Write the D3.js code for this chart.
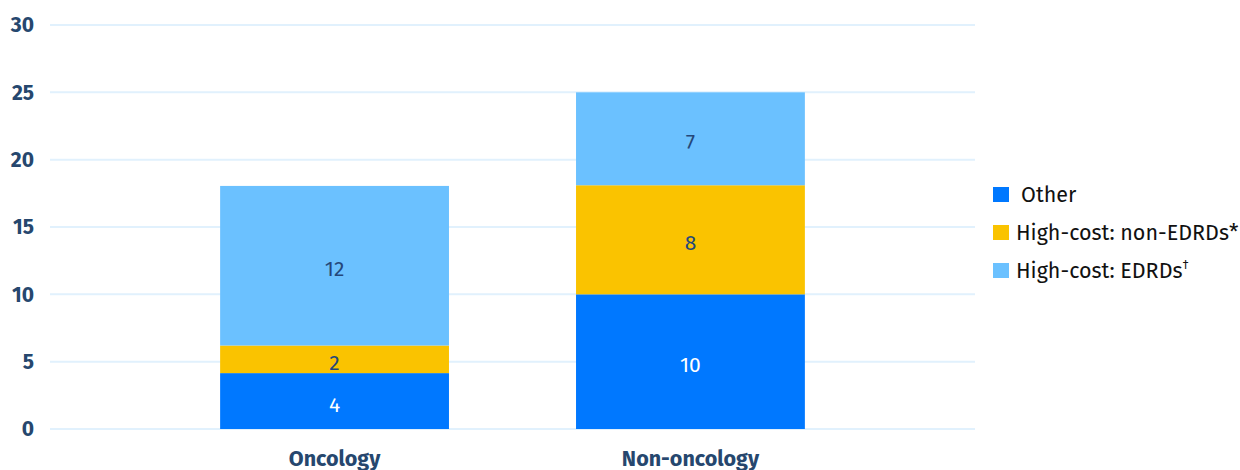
<!DOCTYPE html>
<html><head><meta charset="utf-8">
<script src="https://cdn.jsdelivr.net/npm/d3@7"></script>
<style>body{margin:0;background:#fff;} svg{display:block;font-family:"Fira Sans",Roboto,sans-serif;}</style>
</head><body><svg id="c" width="1240" height="470"></svg>
<script>
const categories = ["Oncology", "Non-oncology"];
const seriesNames = ["Other", "High-cost: non-EDRDs*", "High-cost: EDRDs"];
const seriesMarks = ["", "", "\u2020"];
const other = [4.15, 10.0];
const nonEdrd = [2.05, 8.1];
const edrd = [11.85, 6.9];
const yTicks = [0, 5, 10, 15, 20, 25, 30];
const colors = ["#0078ff", "#fac300", "#6bc1ff"];
const labelColors = ["#ffffff", "#25487a", "#25487a"];

const svg = d3.select("#c");
const y = d3.scaleLinear().domain([0, 30]).range([429, 25]);
const x = d3.scaleBand().domain(categories).range([50, 975]).paddingInner(0.357).paddingOuter(0.478);

// gridlines
svg.append("g").selectAll("line").data(yTicks).join("line")
  .attr("x1", 50).attr("x2", 975)
  .attr("y1", d => y(d)).attr("y2", d => y(d))
  .attr("stroke", "#e1f1fd").attr("stroke-width", 2);

// y axis labels
const yAxis = svg.append("g").attr("transform", "translate(34,0)")
  .call(d3.axisLeft(y).tickValues(yTicks).tickSize(0).tickPadding(0));
yAxis.select(".domain").remove();
yAxis.selectAll("text").attr("font-size", 21).attr("font-weight", "bold")
  .attr("fill", "#26476e").attr("font-family", "\"Fira Sans\",Roboto,sans-serif");

// x axis labels
const xAxis = svg.append("g").attr("transform", "translate(0,443)")
  .call(d3.axisBottom(x).tickSize(0).tickPadding(0));
xAxis.select(".domain").remove();
xAxis.selectAll("text").attr("font-size", 21.5).attr("font-weight", "bold")
  .attr("fill", "#26476e").attr("dy", "1.05em").attr("font-family", "\"Fira Sans\",Roboto,sans-serif");

const rows = categories.map((c, i) => ({cat: c, s0: other[i], s1: nonEdrd[i], s2: edrd[i]}));
const stack = d3.stack().keys(["s0", "s1", "s2"])(rows);

stack.forEach((layer, li) => {
  const g = svg.append("g");
  g.selectAll("rect").data(layer).join("rect")
    .attr("x", d => x(d.data.cat)).attr("width", x.bandwidth())
    .attr("y", d => y(d[1])).attr("height", d => y(d[0]) - y(d[1]))
    .attr("fill", colors[li]);
  g.selectAll("text").data(layer).join("text")
    .attr("x", d => x(d.data.cat) + x.bandwidth() / 2)
    .attr("y", d => (y(d[0]) + y(d[1])) / 2)
    .attr("dy", "0.5em").attr("text-anchor", "middle")
    .attr("font-size", 21).attr("fill", labelColors[li])
    .text(d => Math.round(d[1] - d[0]));
});

// legend
const leg = svg.append("g");
const legY = [194, 232, 270];
seriesNames.forEach((n, i) => {
  leg.append("rect").attr("x", 993).attr("y", legY[i] - 7).attr("width", 16).attr("height", 15).attr("fill", colors[i]);
  const t = leg.append("text").attr("x", i === 0 ? 1021 : 1016).attr("y", legY[i]).attr("dy", "0.36em")
    .attr("font-size", 21.5).attr("fill", "#111").text(n);
  if (seriesMarks[i]) {
    t.append("tspan").attr("font-size", 12).attr("dy", "-0.75em").text(seriesMarks[i]);
  }
});
</script></body></html>
